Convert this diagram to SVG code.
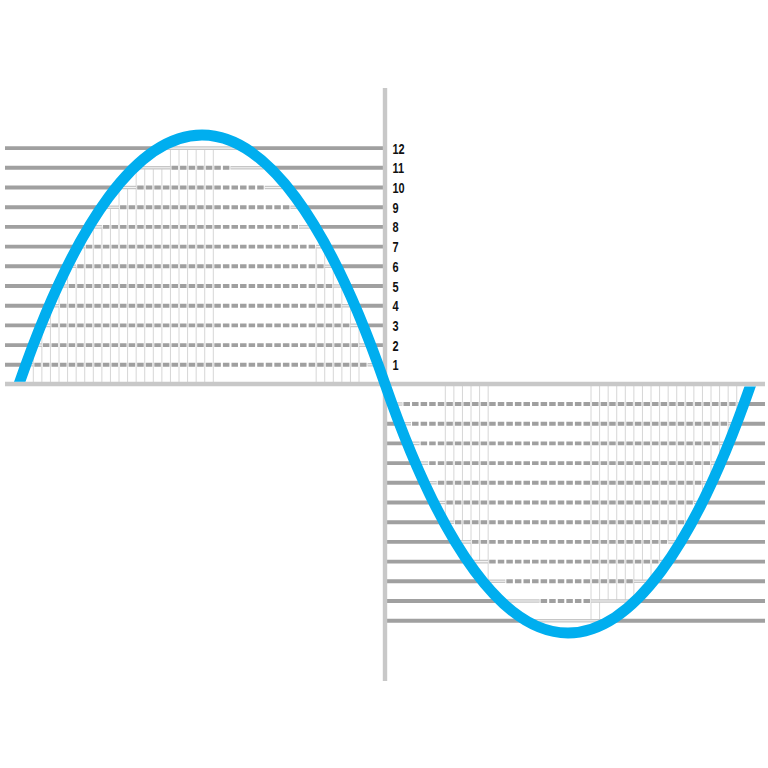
<svg xmlns="http://www.w3.org/2000/svg" xmlns:xlink="http://www.w3.org/1999/xlink" width="768" height="768" viewBox="0 0 768 768">
<style>
.vg{fill:none;stroke:#d6d6d6;stroke-width:1}
.lt{fill:none;stroke:#c6c6c6;stroke-width:3.6}
.ltc{fill:none;stroke:#f2f2f2;stroke-width:1.1}
.dk{fill:none;stroke:#a0a0a0;stroke-width:3.9;stroke-dasharray:6.5 2.0714}
.sl{fill:none;stroke:#a0a0a0;stroke-width:3.9}
.ax{fill:none;stroke:#c8c8c8;stroke-width:4.4}
.wave{fill:none;stroke:#00AEEF;stroke-width:10.8}
.lbl{font-family:'Liberation Sans',Arial,sans-serif;font-weight:bold;font-size:15.2px;fill:#111}
</style>
<defs>
<path id="lightTop" d="M26,364.8H33.3 M367.59,364.8H378 M33.4,345.1H41.87 M359.01,345.1H370.6 M41,325.4H50.44 M350.44,325.4H363 M49.4,305.7H59.01 M341.87,305.7H354.6 M58,286H67.59 M333.3,286H346 M67.5,266.3H76.16 M324.73,266.3H336.5 M77.8,246.6H84.73 M316.16,246.6H326.2 M89.2,226.9H101.87 M299.01,226.9H314.8 M102.1,207.2H119.01 M290.44,207.2H301.9 M116.3,187.5H136.16 M264.73,187.5H287.7 M134.5,167.8H170.44 M230.44,167.8H269.5 M161.3,148.1H242.7"/>
<path id="lightBot" d="M392,404H402.44 M736.73,404H744 M399.4,423.7H411.01 M728.16,423.7H736.6 M407,443.4H419.59 M719.59,443.4H729 M415.4,463.1H428.16 M711.01,463.1H720.6 M424,482.8H436.73 M702.44,482.8H712 M433.5,502.5H445.3 M693.87,502.5H702.5 M443.8,522.2H453.87 M685.3,522.2H692.2 M455.2,541.9H471.01 M668.16,541.9H680.8 M468.1,561.6H488.16 M659.59,561.6H667.9 M482.3,581.3H505.3 M633.87,581.3H653.7 M500.5,601H539.59 M591.01,601H635.5 M527.3,620.7H608.7"/>
<clipPath id="waveClip">
<rect x="0" y="0" width="372" height="381.8"/>
<rect x="372" y="0" width="26" height="768"/>
<rect x="398" y="386.4" width="370" height="381.6"/>
</clipPath>
</defs>
<rect width="768" height="768" fill="#ffffff"/>
<g id="grid-verticals">
<path class="vg" d="M33.3,384V345.1 M41.87,384V325.4 M50.44,384V305.7 M59.01,384V286 M67.59,384V266.3 M76.16,384V266.3 M84.73,384V246.6 M93.3,384V226.9 M101.87,384V226.9 M110.44,384V207.2 M119.01,384V187.5 M127.59,384V187.5 M136.16,384V167.8 M144.73,384V167.8 M153.3,384V167.8 M161.87,384V167.8 M170.44,384V148.1 M179.01,384V148.1 M187.59,384V148.1 M196.16,384V148.1 M204.73,384V148.1 M213.3,384V148.1 M316.16,384V246.6 M324.73,384V246.6 M333.3,384V266.3 M341.87,384V286 M350.44,384V305.7 M359.01,384V325.4"/>
<path class="vg" d="M445.3,384V522.2 M453.87,384V522.2 M462.44,384V541.9 M471.01,384V561.6 M479.59,384V561.6 M488.16,384V581.3 M591.01,384V620.7 M599.59,384V620.7 M608.16,384V601 M616.73,384V601 M625.3,384V601 M633.87,384V601 M642.44,384V581.3 M651.01,384V581.3 M659.59,384V561.6 M668.16,384V541.9 M676.73,384V541.9 M685.3,384V522.2 M693.87,384V502.5 M702.44,384V502.5 M711.01,384V482.8 M719.59,384V463.1 M728.16,384V443.4 M736.73,384V423.7"/>
</g>
<g id="levels-light">
<use xlink:href="#lightTop" class="lt"/>
<use xlink:href="#lightTop" class="ltc"/>
<use xlink:href="#lightBot" class="lt"/>
<use xlink:href="#lightBot" class="ltc"/>
</g>
<g id="levels-dashed">
<path class="dk" d="M34.34,364.8H366.55 M42.91,345.1H357.97 M51.48,325.4H349.4 M60.05,305.7H340.83 M68.63,286H332.26 M77.2,266.3H323.69 M85.77,246.6H315.12 M102.91,226.9H297.97 M120.05,207.2H289.4 M137.2,187.5H263.69 M171.48,167.8H229.4"/>
<path class="dk" d="M403.48,404H735.69 M412.05,423.7H727.12 M420.63,443.4H718.55 M429.2,463.1H709.97 M437.77,482.8H701.4 M446.34,502.5H692.83 M454.91,522.2H684.26 M472.05,541.9H667.12 M489.2,561.6H658.55 M506.34,581.3H632.83 M540.63,601H589.97"/>
</g>
<g id="levels-solid">
<path class="sl" d="M5,364.8H27 M377,364.8H383 M5,345.1H34.4 M369.6,345.1H383 M5,325.4H42 M362,325.4H383 M5,305.7H50.4 M353.6,305.7H383 M5,286H59 M345,286H383 M5,266.3H68.5 M335.5,266.3H383 M5,246.6H78.8 M325.2,246.6H383 M5,226.9H90.2 M313.8,226.9H383 M5,207.2H103.1 M300.9,207.2H383 M5,187.5H117.3 M286.7,187.5H383 M5,167.8H135.5 M268.5,167.8H383 M5,148.1H162.3 M241.7,148.1H383"/>
<path class="sl" d="M387,404H393 M743,404H765 M387,423.7H400.4 M735.6,423.7H765 M387,443.4H408 M728,443.4H765 M387,463.1H416.4 M719.6,463.1H765 M387,482.8H425 M711,482.8H765 M387,502.5H434.5 M701.5,502.5H765 M387,522.2H444.8 M691.2,522.2H765 M387,541.9H456.2 M679.8,541.9H765 M387,561.6H469.1 M666.9,561.6H765 M387,581.3H483.3 M652.7,581.3H765 M387,601H501.5 M634.5,601H765 M387,620.7H528.3 M607.7,620.7H765"/>
</g>
<g id="axes">
<line class="ax" x1="5" y1="384" x2="765" y2="384"/>
<line class="ax" x1="385" y1="88" x2="385" y2="681"/>
</g>
<g id="labels">
<text class="lbl" transform="translate(392.5,153.6) scale(0.72,1)">12</text>
<text class="lbl" transform="translate(392.5,173.3) scale(0.72,1)">11</text>
<text class="lbl" transform="translate(392.5,193) scale(0.72,1)">10</text>
<text class="lbl" transform="translate(392.5,212.7) scale(0.72,1)">9</text>
<text class="lbl" transform="translate(392.5,232.4) scale(0.72,1)">8</text>
<text class="lbl" transform="translate(392.5,252.1) scale(0.72,1)">7</text>
<text class="lbl" transform="translate(392.5,271.8) scale(0.72,1)">6</text>
<text class="lbl" transform="translate(392.5,291.5) scale(0.72,1)">5</text>
<text class="lbl" transform="translate(392.5,311.2) scale(0.72,1)">4</text>
<text class="lbl" transform="translate(392.5,330.9) scale(0.72,1)">3</text>
<text class="lbl" transform="translate(392.5,350.6) scale(0.72,1)">2</text>
<text class="lbl" transform="translate(392.5,370.3) scale(0.72,1)">1</text>
</g>
<g id="wave">
<path class="wave" clip-path="url(#waveClip)" d="M15.7,393.5 L19,384 C134,52 270,52 385,384 C500,716 636,716 751,384 L754.3,374.5"/>
</g>
</svg>
